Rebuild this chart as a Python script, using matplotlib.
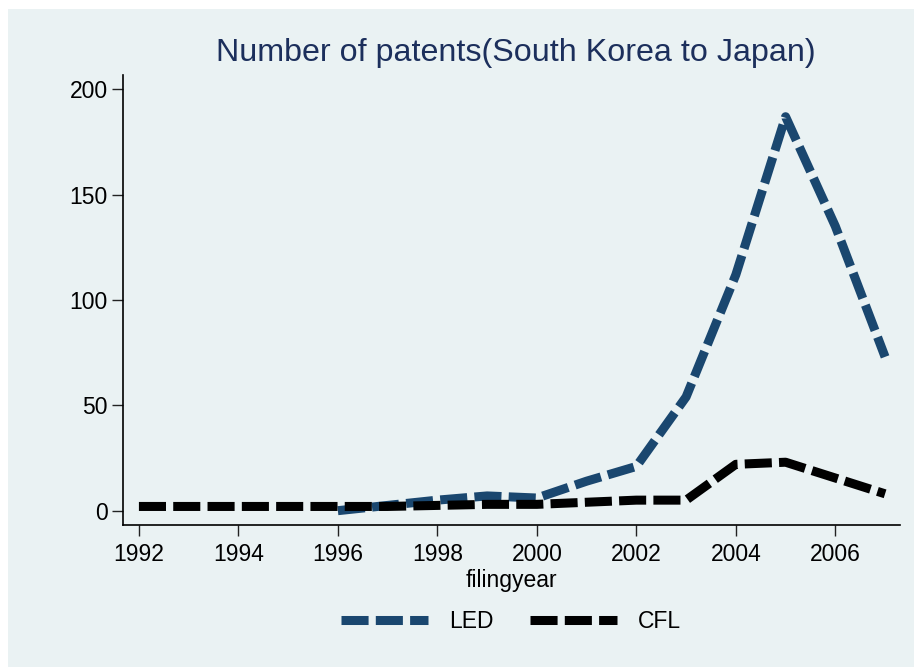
import numpy as np
import matplotlib
matplotlib.use('Agg')
import matplotlib.pyplot as plt
import matplotlib.patches as patches

plt.rcParams['font.family'] = ['Liberation Sans', 'DejaVu Sans']

# data
years = np.arange(1992, 2008)
led = [np.nan, np.nan, np.nan, np.nan, 0, 2.5, 5, 7, 6, 14, 21, 54, 112, 187, 135, 73]
cfl = [2, 2, 2, 2, 2, 2, 2.5, 3, 3, 4, 5, 5, 22, 23, 15.5, 8]
xticks = [1992, 1994, 1996, 1998, 2000, 2002, 2004, 2006]
yticks = [0, 50, 100, 150, 200]

bg = '#EAF2F3'
led_color = '#1A476F'

fig = plt.figure(figsize=(9.14, 6.67), dpi=100, facecolor='white')
# chart panel (white strip on top and left like the reference)
fig.patches.append(patches.Rectangle((8 / 914, 0), 1, 1 - 9 / 667,
                                     transform=fig.transFigure, facecolor=bg,
                                     edgecolor='none', zorder=-10))

ax = fig.add_axes([123 / 914, 142 / 667, 777 / 914, 450 / 667])
ax.set_facecolor(bg)

lw = 6.5
l1, = ax.plot(years, led, color=led_color, lw=lw, dashes=(3, 0.8),
              dash_capstyle='butt', solid_joinstyle='miter', label='LED')
l2, = ax.plot(years, cfl, color='black', lw=lw, dashes=(3, 0.8),
              dash_capstyle='butt', solid_joinstyle='miter', label='CFL')

ax.set_xlim(1991.68, 2007.30)
ax.set_ylim(-6.8, 206.8)
ax.set_xticks(xticks)
ax.set_yticks(yticks)
ax.tick_params(axis='both', direction='out', length=8, width=1, labelsize=16.5,
               color='#222222')
ax.tick_params(axis='x', pad=5)
ax.tick_params(axis='y', pad=3)
for s in ['top', 'right']:
    ax.spines[s].set_visible(False)
for s in ['left', 'bottom']:
    ax.spines[s].set_linewidth(1.2)

ax.set_xlabel('filingyear', fontsize=16.5, labelpad=2)
fig.text(516 / 914, 1 - 53 / 667, 'Number of patents(South Korea to Japan)',
         ha='center', va='center', fontsize=23.2, color='#1C2F5C')

fig.legend(handles=[l1, l2], loc='center', bbox_to_anchor=(511 / 914, 45 / 667),
           ncol=2, frameon=False, fontsize=16.5, handlelength=3.8,
           handletextpad=0.9, columnspacing=1.6)

fig.savefig('out.png', dpi=100, facecolor='white')
